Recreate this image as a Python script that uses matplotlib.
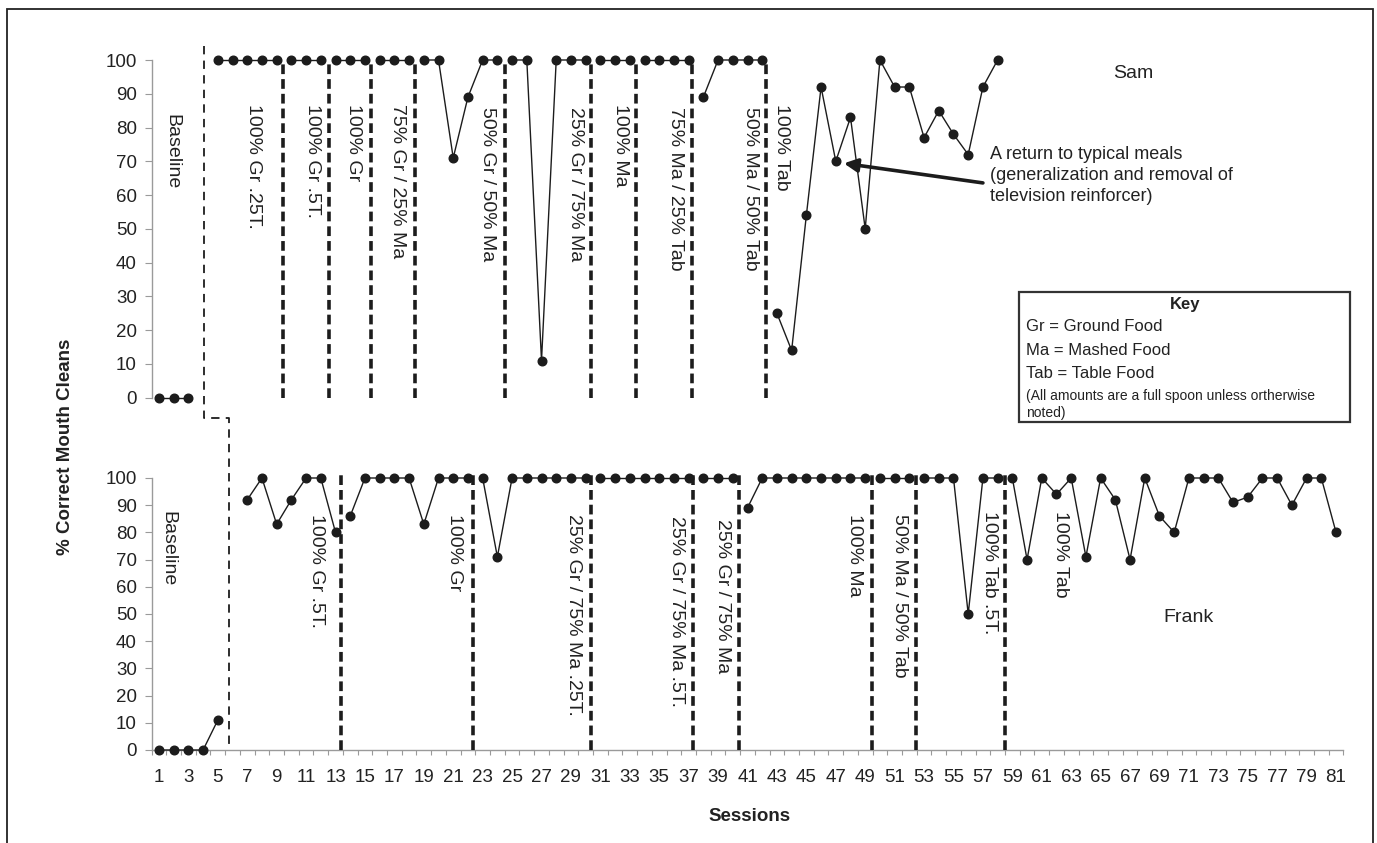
import matplotlib
matplotlib.use("Agg")
import matplotlib.pyplot as plt
from matplotlib.lines import Line2D
from matplotlib.patches import Rectangle

plt.rcParams['font.family'] = ['Liberation Sans', 'DejaVu Sans']
plt.rcParams['lines.scale_dashes'] = False

# ---------------- data ----------------
sam_sessions = [1, 2, 3,
                5, 6, 7, 8, 9, 10, 11, 12, 13, 14, 15, 16, 17, 18, 19, 20,
                21, 22, 23, 24, 25, 26, 27, 28, 29, 30, 31, 32, 33, 34, 35, 36, 37,
                38, 39, 40, 41, 42, 43, 44, 45, 46, 47, 48, 49, 50, 51, 52, 53, 54,
                55, 56, 57, 58]
sam_values = [0, 0, 0,
              100, 100, 100, 100, 100, 100, 100, 100, 100, 100, 100, 100, 100, 100, 100, 100,
              71, 89, 100, 100, 100, 100, 11, 100, 100, 100, 100, 100, 100, 100, 100, 100, 100,
              89, 100, 100, 100, 100, 25, 14, 54, 92, 70, 83, 50, 100, 92, 92, 77, 85,
              78, 72, 92, 100]

frank_sessions = [1, 2, 3, 4, 5,
                  7, 8, 9, 10, 11, 12, 13, 14, 15, 16, 17, 18, 19, 20, 21, 22,
                  23, 24, 25, 26, 27, 28, 29, 30, 31, 32, 33, 34, 35, 36, 37, 38, 39, 40,
                  41, 42, 43, 44, 45, 46, 47, 48, 49, 50, 51, 52, 53, 54, 55, 56, 57, 58,
                  59, 60, 61, 62, 63, 64, 65, 66, 67, 68, 69, 70, 71, 72, 73, 74, 75, 76,
                  77, 78, 79, 80, 81]
frank_values = [0, 0, 0, 0, 11,
                92, 100, 83, 92, 100, 100, 80, 86, 100, 100, 100, 100, 83, 100, 100, 100,
                100, 71, 100, 100, 100, 100, 100, 100, 100, 100, 100, 100, 100, 100, 100, 100, 100, 100,
                89, 100, 100, 100, 100, 100, 100, 100, 100, 100, 100, 100, 100, 100, 100, 50, 100, 100,
                100, 70, 100, 94, 100, 71, 100, 92, 70, 100, 86, 80, 100, 100, 100, 91, 93, 100,
                100, 90, 100, 100, 80]

sam_baseline_end = 4.05
frank_baseline_end = 5.75
sam_phase_lines = [9.43, 12.53, 15.44, 18.42, 24.53, 30.36, 33.41, 37.2, 42.29]
frank_phase_lines = [13.39, 22.31, 30.33, 37.27, 40.39, 49.47, 52.48, 58.51]

sam_labels = ["Baseline", "100% Gr .25T.", "100% Gr .5T.", "100% Gr", "75% Gr / 25% Ma",
              "50% Gr / 50% Ma", "25% Gr / 75% Ma", "100% Ma", "75% Ma / 25% Tab",
              "50% Ma / 50% Tab", "100% Tab"]
sam_label_x = [1.85, 7.4, 11.46, 14.2, 17.2, 23.3, 29.3, 32.4, 36.1, 41.2, 43.3]
sam_label_top = [84, 87, 87, 87, 87, 86, 86, 87, 86, 86, 87]

frank_labels = ["Baseline", "100% Gr .5T.", "100% Gr", "25% Gr / 75% Ma .25T.",
                "25% Gr / 75% Ma .5T.", "25% Gr / 75% Ma", "100% Ma", "50% Ma / 50% Tab",
                "100% Tab .5T.", "100% Tab"]
frank_label_x = [1.63, 11.7, 21.1, 29.2, 36.2, 39.3, 48.3, 51.35, 57.45, 62.3]
frank_label_top = [88, 86.7, 86.7, 86.7, 86, 85, 86.7, 86.7, 88, 88]

x_ticks = list(range(1, 82, 2))
y_ticks = [0, 10, 20, 30, 40, 50, 60, 70, 80, 90, 100]

# ---------------- figure ----------------
W, H = 1377, 843
fig = plt.figure(figsize=(W / 100, H / 100), dpi=100)
fig.patch.set_facecolor('white')


def fx(px):
    return px / W


def fy(py):
    return 1 - py / H


x_left_px, x_right_px = 151.6, 1343.4
ax_top = fig.add_axes([fx(x_left_px), fy(397.7), (x_right_px - x_left_px) / W, (397.7 - 60) / H])
ax_bot = fig.add_axes([fx(x_left_px), fy(750), (x_right_px - x_left_px) / W, (750 - 478) / H])

INK = '#1c1c1c'
AX = '#9a9a9a'
TXT = '#222222'

for ax in (ax_top, ax_bot):
    ax.set_xlim(0.5, 81.5)
    ax.set_ylim(0, 100)
    ax.patch.set_alpha(0)
    for s in ('top', 'right'):
        ax.spines[s].set_visible(False)
    ax.spines['left'].set_color(AX)
    ax.spines['left'].set_linewidth(1.0)
    ax.set_yticks(y_ticks)
    ax.tick_params(axis='y', direction='out', length=4.7, width=0.8, color=AX,
                   labelsize=13.5, labelcolor=TXT, pad=6)

ax_top.spines['bottom'].set_visible(False)
ax_top.set_xticks([])

ax_bot.spines['bottom'].set_color(AX)
ax_bot.spines['bottom'].set_linewidth(1.0)
ax_bot.set_xticks(x_ticks)
ax_bot.set_xticklabels([str(t) for t in x_ticks])
ax_bot.set_xticks([t + 0.5 for t in range(0, 82)], minor=True)
ax_bot.tick_params(axis='x', which='major', length=0, labelsize=13.5, labelcolor=TXT, pad=14)
ax_bot.tick_params(axis='x', which='minor', direction='out', length=3.6, width=0.8, color=AX)


def plot_series(ax, sessions, values, breaks):
    seg_x, seg_y = [sessions[0]], [values[0]]
    for i in range(1, len(sessions)):
        a, b = sessions[i - 1], sessions[i]
        if any(a < p < b for p in breaks):
            ax.plot(seg_x, seg_y, color=INK, lw=1.0, clip_on=False, zorder=5)
            ax.plot(seg_x, seg_y, 'o', color=INK, ms=6.2, clip_on=False, zorder=6)
            seg_x, seg_y = [], []
        seg_x.append(b)
        seg_y.append(values[i])
    ax.plot(seg_x, seg_y, color=INK, lw=1.0, clip_on=False, zorder=5)
    ax.plot(seg_x, seg_y, 'o', color=INK, ms=6.2, clip_on=False, zorder=6)


plot_series(ax_top, sam_sessions, sam_values, sam_phase_lines + [sam_baseline_end])
plot_series(ax_bot, frank_sessions, frank_values, frank_phase_lines + [frank_baseline_end])

thick_dash = (0, (7.0, 3.6))
for p in sam_phase_lines:
    ax_top.plot([p, p], [0, 100], color=INK, lw=2.6, linestyle=thick_dash, clip_on=False, zorder=3)
for p in frank_phase_lines:
    ax_bot.plot([p, p], [0, 101], color=INK, lw=2.6, linestyle=thick_dash, clip_on=False, zorder=3)

# baseline step line spanning both panels
inv = fig.transFigure.inverted()
p1 = inv.transform(ax_top.transData.transform((sam_baseline_end, 104)))
p2 = inv.transform(ax_top.transData.transform((sam_baseline_end, -5.9)))
p3 = inv.transform(ax_top.transData.transform((frank_baseline_end, -5.9)))
p4 = inv.transform(ax_bot.transData.transform((frank_baseline_end, 0)))
fig.add_artist(Line2D([p1[0], p2[0], p3[0], p4[0]], [p1[1], p2[1], p3[1], p4[1]],
                      transform=fig.transFigure, color=INK, lw=1.3,
                      linestyle=(0, (6.0, 4.5))))

for t, x, y in zip(sam_labels, sam_label_x, sam_label_top):
    ax_top.text(x, y, t, rotation=270, ha='center', va='top', fontsize=14, color=TXT)
for t, x, y in zip(frank_labels, frank_label_x, frank_label_top):
    ax_bot.text(x, y, t, rotation=270, ha='center', va='top', fontsize=14, color=TXT)

ax_top.text(67.2, 96, "Sam", ha='center', va='center', fontsize=14, color=TXT)
ax_bot.text(71, 48.6, "Frank", ha='center', va='center', fontsize=14, color=TXT)

ax_top.text(57.5, 74.5, "A return to typical meals\n(generalization and removal of\ntelevision reinforcer)",
            ha='left', va='top', fontsize=13, color=TXT, linespacing=1.3, clip_on=False)
ax_top.annotate('', xy=(47.55, 69.4), xytext=(57.0, 63.6),
                arrowprops=dict(arrowstyle='-|>', lw=2.6, color=INK, mutation_scale=20,
                                shrinkA=0, shrinkB=0), annotation_clip=False)

# axis titles
fig.text(fx(65), fy(447), "% Correct Mouth Cleans", rotation=90, ha='center', va='center',
         fontsize=13.5, fontweight='bold', color=TXT)
fig.text(fx(750), fy(816.7), "Sessions", ha='center', va='center',
         fontsize=13.5, fontweight='bold', color=TXT)

# key box
fig.add_artist(Rectangle((fx(1019), fy(421.7)), (1350 - 1019) / W, (421.7 - 291.7) / H,
                         transform=fig.transFigure, facecolor='white', edgecolor='#333333',
                         lw=1.6, zorder=10))
fig.text(fx(1185), fy(305), "Key", ha='center', va='center', fontsize=12,
         fontweight='bold', color=TXT, zorder=11)
key_lines = ["Gr = Ground Food", "Ma = Mashed Food", "Tab = Table Food"]
key_y = [326.7, 350.7, 373.3]
for t, yy in zip(key_lines, key_y):
    fig.text(fx(1026), fy(yy), t, ha='left', va='center', fontsize=12, color=TXT, zorder=11)
fig.text(fx(1026), fy(395.7), "(All amounts are a full spoon unless ortherwise", ha='left',
         va='center', fontsize=10, color=TXT, zorder=11)
fig.text(fx(1026), fy(413.3), "noted)", ha='left', va='center', fontsize=10, color=TXT, zorder=11)

# outer frame
fig.add_artist(Rectangle((fx(6.7), fy(860)), (1373 - 6.7) / W, (860 - 9.3) / H,
                         transform=fig.transFigure, facecolor='none', edgecolor='#222222',
                         lw=1.3, clip_on=False))

fig.savefig("out.png", dpi=100)
